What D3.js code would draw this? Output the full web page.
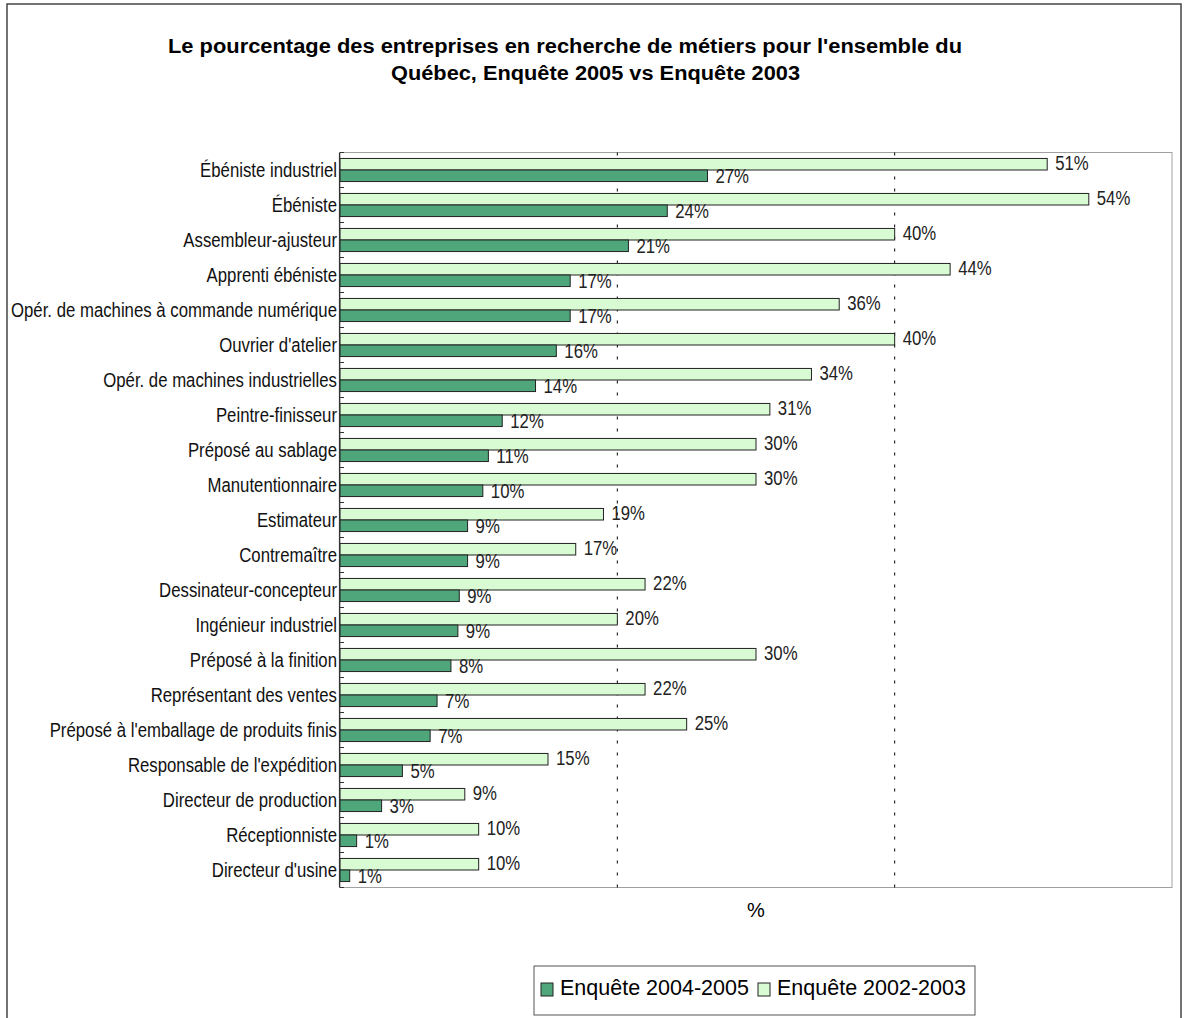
<!DOCTYPE html>
<html>
<head>
<meta charset="utf-8">
<script src="https://cdn.jsdelivr.net/npm/d3@7"></script>
<style>
  body { margin: 0; background: #fff; }
  svg { display: block; }
</style>
</head>
<body>
<div id="chart"></div>
<script>
// categories, top to bottom
const metiers = [
  "Ébéniste industriel", "Ébéniste", "Assembleur-ajusteur", "Apprenti ébéniste",
  "Opér. de machines à commande numérique", "Ouvrier d'atelier",
  "Opér. de machines industrielles", "Peintre-finisseur", "Préposé au sablage",
  "Manutentionnaire", "Estimateur", "Contremaître", "Dessinateur-concepteur",
  "Ingénieur industriel", "Préposé à la finition", "Représentant des ventes",
  "Préposé à l'emballage de produits finis", "Responsable de l'expédition",
  "Directeur de production", "Réceptionniste", "Directeur d'usine"
]

// Enquête 2004-2005 (dark green)
const enquete2005 = [26.5, 23.6, 20.8, 16.6, 16.6, 15.6, 14.1, 11.7, 10.7, 10.3,
  9.2, 9.2, 8.6, 8.5, 8.0, 7.0, 6.5, 4.5, 3.0, 1.2, 0.7]

// Enquête 2002-2003 (light green)
const enquete2003 = [51, 54, 40, 44, 36, 40, 34, 31, 30, 30,
  19, 17, 22, 20, 30, 22, 25, 15, 9, 10, 10]

const seriesNames = ["Enquête 2004-2005", "Enquête 2002-2003"]
const xTicks = [0, 20, 40, 60]

const width = 1185
const height = 1018
const plot = { left: 340, right: 1172, top: 152.5, bottom: 887.5 }

const darkGreen = "#4ea67a"
const lightGreen = "#d8fbd4"
const font = "'Liberation Sans', Arial, sans-serif"
// narrow look: Liberation Sans squeezed horizontally
const squeeze = 0.86

const svg = d3.select("#chart").append("svg")
    .attr("width", width)
    .attr("height", height)

// outer frame
svg.append("rect")
    .attr("x", 7).attr("y", 4)
    .attr("width", 1174).attr("height", 1040)
    .attr("fill", "none")
    .attr("stroke", "#444")
    .attr("stroke-width", 1.5)

// title
const title = svg.append("g")
    .attr("font-family", font)
    .attr("font-weight", "bold")
    .attr("font-size", 19.5)
    .attr("lengthAdjust", "spacingAndGlyphs")
title.append("text").attr("x", 168).attr("y", 53)
    .attr("textLength", 794)
    .attr("lengthAdjust", "spacingAndGlyphs")
    .text("Le pourcentage des entreprises en recherche de métiers pour l'ensemble du")
title.append("text").attr("x", 391).attr("y", 80)
    .attr("textLength", 409)
    .attr("lengthAdjust", "spacingAndGlyphs")
    .text("Québec, Enquête 2005 vs Enquête 2003")

const x = d3.scaleLinear()
    .domain([0, 60])
    .range([plot.left, plot.right])

const y = d3.scaleBand()
    .domain(metiers)
    .range([plot.top, plot.bottom])
    .paddingInner(0.34)
    .paddingOuter(0.17)

// light bar on top, dark bar below
const ySub = d3.scaleBand()
    .domain(["2003", "2005"])
    .range([0, y.bandwidth()])

const rows = metiers.map((m, i) => ({ name: m, v2003: enquete2003[i], v2005: enquete2005[i] }))

// plot area borders
svg.append("rect")
    .attr("x", plot.left).attr("y", plot.top)
    .attr("width", plot.right - plot.left)
    .attr("height", plot.bottom - plot.top)
    .attr("fill", "none")
    .attr("stroke", "#a0a0a0")
    .attr("stroke-width", 1)

// dotted gridlines
svg.append("g")
    .selectAll("line")
    .data(xTicks.filter(t => t > 0 && t < 60))
    .enter()
    .append("line")
    .attr("x1", d => x(d)).attr("x2", d => x(d))
    .attr("y1", plot.top).attr("y2", plot.bottom)
    .attr("stroke", "#000")
    .attr("stroke-width", 1)
    .attr("stroke-dasharray", "3,9")

const bars = svg.append("g")
    .selectAll("g")
    .data(rows)
    .enter()
    .append("g")
    .attr("transform", d => `translate(0,${y(d.name)})`)

bars.append("rect")
    .attr("x", x(0))
    .attr("y", ySub("2003"))
    .attr("width", d => x(d.v2003) - x(0))
    .attr("height", ySub.bandwidth())
    .attr("fill", lightGreen)
    .attr("stroke", "#222")
    .attr("stroke-width", 1)

bars.append("rect")
    .attr("x", x(0))
    .attr("y", ySub("2005"))
    .attr("width", d => x(d.v2005) - x(0))
    .attr("height", ySub.bandwidth())
    .attr("fill", darkGreen)
    .attr("stroke", "#222")
    .attr("stroke-width", 1)

// value labels
function valueLabel(sel, key, sub, dy) {
  sel.append("g")
    .attr("transform", d => `translate(${x(d[key]) + 8},${ySub(sub) + ySub.bandwidth() + dy}) scale(${squeeze},1)`)
    .append("text")
    .attr("font-family", font)
    .attr("font-size", 19.5)
    .attr("fill", "#222")
    .text(d => Math.round(d[key]) + "%")
}
valueLabel(bars, "v2003", "2003", 0)
valueLabel(bars, "v2005", "2005", 1)

// category axis with inside ticks at band boundaries
const yAxis = svg.append("g")
svg.append("line")
    .attr("x1", plot.left - 0.5).attr("x2", plot.left - 0.5)
    .attr("y1", plot.top).attr("y2", plot.bottom)
    .attr("stroke", "#333")
    .attr("stroke-width", 1.2)

const boundaries = metiers.map(m => y(m) - y.step() * y.paddingOuter())
boundaries.push(plot.bottom)
yAxis.selectAll("line.tick")
    .data(boundaries)
    .enter()
    .append("line")
    .attr("x1", plot.left).attr("x2", plot.left + 4)
    .attr("y1", d => d).attr("y2", d => d)
    .attr("stroke", "#333")

yAxis.selectAll("g.label")
    .data(metiers)
    .enter()
    .append("g")
    .attr("transform", d => `translate(${plot.left - 3},${y(d) + y.bandwidth() / 2}) scale(${squeeze},1)`)
    .append("text")
    .attr("dy", "0.36em")
    .attr("text-anchor", "end")
    .attr("font-family", font)
    .attr("font-size", 19.5)
    .attr("fill", "#111")
    .text(d => d)

// x axis title
svg.append("text")
    .attr("x", (plot.left + plot.right) / 2)
    .attr("y", 917)
    .attr("text-anchor", "middle")
    .attr("font-family", font)
    .attr("font-size", 20)
    .text("%")

// legend
const legend = svg.append("g")
legend.append("rect")
    .attr("x", 534).attr("y", 966)
    .attr("width", 441).attr("height", 49)
    .attr("fill", "#fff")
    .attr("stroke", "#555")

const legendColors = [darkGreen, lightGreen]
const legendX = [541, 758]
const items = legend.selectAll("g.item")
    .data(seriesNames)
    .enter()
    .append("g")
    .attr("transform", (d, i) => `translate(${legendX[i]},983)`)

items.append("rect")
    .attr("width", 12).attr("height", 13)
    .attr("fill", (d, i) => legendColors[i])
    .attr("stroke", "#222")

items.append("text")
    .attr("x", 19)
    .attr("y", 12)
    .attr("font-family", font)
    .attr("font-size", 21.5)
    .text(d => d)
</script>
</body>
</html>
